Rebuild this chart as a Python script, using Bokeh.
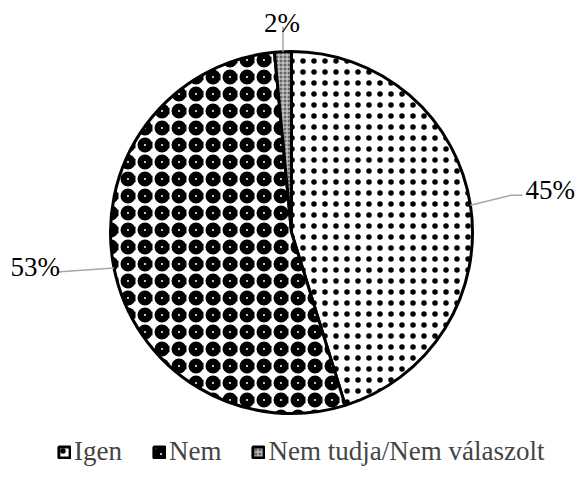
import math
from bokeh.plotting import figure
from bokeh.models import Range1d, Legend, LegendItem
from bokeh.core.properties import value
from bokeh.embed import file_html
from bokeh.resources import INLINE

# ---- data ----
categories = ["Igen", "Nem", "Nem tudja/Nem válaszolt"]
shares = [45.2, 53.3, 1.5]
pct_labels = [f"{round(s)}%" for s in shares]

# ---- layout ----
W, H = 575, 481
CX, CY, R = 291, 249, 181
FONT = "Liberation Serif"

p = figure(width=W, height=H, output_backend="svg", toolbar_location=None,
           x_range=Range1d(0, W), y_range=Range1d(0, H), min_border=0)
p.axis.visible = False
p.grid.visible = False
p.outline_line_color = None
p.background_fill_color = "white"

total = sum(shares)
starts, ends = [], []
acc = 0.0
for s in shares:
    a0 = math.pi / 2 - 2 * math.pi * acc / total
    acc += s
    a1 = math.pi / 2 - 2 * math.pi * acc / total
    starts.append(a0)
    ends.append(a1)

styles = [
    dict(fill_color="white", hatch_pattern=".", hatch_scale=11, hatch_weight=1.5, hatch_color="black"),
    dict(fill_color="white", hatch_pattern="o", hatch_scale=17, hatch_weight=6.5, hatch_color="black"),
    dict(fill_color="#666666", hatch_pattern="+", hatch_scale=4, hatch_weight=1, hatch_color="#dddddd"),
]

renderers = []
for i in range(len(shares)):
    r = p.wedge(x=CX, y=CY, radius=R, start_angle=starts[i], end_angle=ends[i],
                direction="clock", line_color="black", line_width=3, **styles[i])
    renderers.append(r)

# leader lines and labels
mids = [(a0 + a1) / 2 for a0, a1 in zip(starts, ends)]
edge = [(CX + R * math.cos(m), CY + R * math.sin(m)) for m in mids]
leader_pts = [
    [(0, 0), (40, 10), (52, 10)],
    [(0, 0), (-57, -4)],
    [(0, 0), (0, 25)],
]
for (ex, ey), pts in zip(edge, leader_pts):
    p.line([ex + dx for dx, dy in pts], [ey + dy for dx, dy in pts],
           line_color="#a6a6a6", line_width=1.5)

label_off = [(55, 15, "left", "middle"), (-54, 1, "right", "alphabetic"), (-1, 29, "center", "alphabetic")]
for (ex, ey), txt, (dx, dy, al, bl) in zip(edge, pct_labels, label_off):
    p.text(x=[ex + dx], y=[ey + dy], text=[txt], text_font=value(FONT),
           text_font_size="27px", text_align=al, text_baseline=bl, text_color="black")

legend = Legend(items=[LegendItem(label=c, renderers=[r]) for c, r in zip(categories, renderers)],
                orientation="horizontal", location=(57, 14), spacing=30, label_standoff=3,
                glyph_width=14, glyph_height=14, padding=0, margin=0,
                border_line_color=None, background_fill_alpha=0,
                label_text_font=FONT, label_text_font_size="27px")
p.add_layout(legend, "center")

open("out.html", "w").write(file_html(p, INLINE))
